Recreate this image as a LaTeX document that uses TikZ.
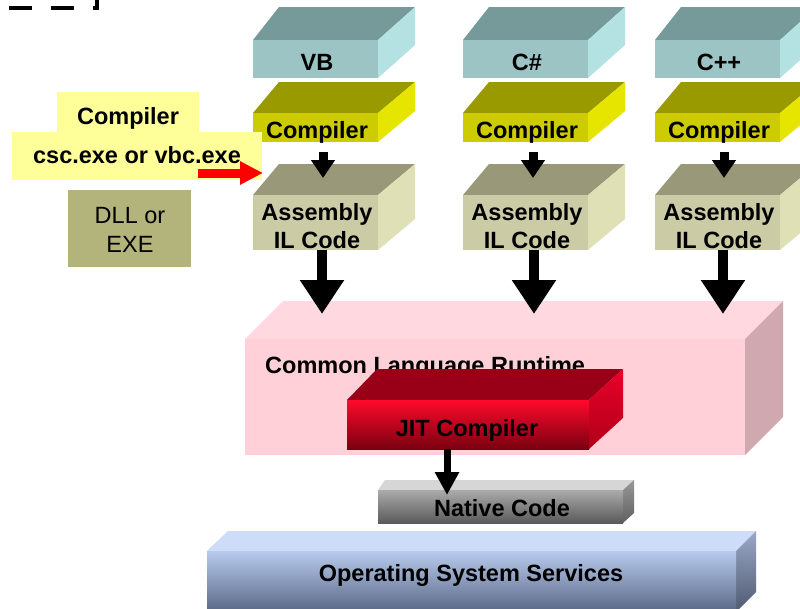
\documentclass[tikz,border=0pt]{standalone}
\usepackage{fontspec}
\setmainfont{Liberation Sans}
\usetikzlibrary{arrows.meta}
\definecolor{langT}{HTML}{76999A}
\definecolor{langF}{HTML}{9CC4C4}
\definecolor{langS}{HTML}{B4E2E3}
\definecolor{compT}{HTML}{999900}
\definecolor{compF}{HTML}{CCCC00}
\definecolor{compS}{HTML}{E5E500}
\definecolor{asmT}{HTML}{999979}
\definecolor{asmF}{HTML}{CBCBA6}
\definecolor{asmS}{HTML}{E0E0B6}
\definecolor{clrT}{HTML}{FFD9DF}
\definecolor{clrF}{HTML}{FFD0D8}
\definecolor{clrS}{HTML}{CFA8B0}
\definecolor{jitT}{HTML}{990018}
\definecolor{jitF1}{HTML}{FF0A2C}
\definecolor{jitF2}{HTML}{E00022}
\definecolor{jitF3}{HTML}{7A0010}
\definecolor{jitS1}{HTML}{E8002A}
\definecolor{jitS2}{HTML}{B00018}
\definecolor{natT}{HTML}{D6D6D6}
\definecolor{natF1}{HTML}{ABABAB}
\definecolor{natF2}{HTML}{5A5A5A}
\definecolor{natS1}{HTML}{989898}
\definecolor{natS2}{HTML}{606060}
\definecolor{osT}{HTML}{CDDCF8}
\definecolor{osF1}{HTML}{B8CBEE}
\definecolor{osF2}{HTML}{5A6784}
\definecolor{osS1}{HTML}{9AA8C6}
\definecolor{osS2}{HTML}{4F5A72}
\definecolor{ylab}{HTML}{FFFF99}
\definecolor{dllc}{HTML}{B3B37C}
\tikzset{
  langtop/.style={fill=langT}, langfront/.style={fill=langF}, langside/.style={fill=langS},
  comptop/.style={fill=compT}, compfront/.style={fill=compF}, compside/.style={fill=compS},
  asmtop/.style={fill=asmT}, asmfront/.style={fill=asmF}, asmside/.style={fill=asmS},
  clrtop/.style={fill=clrT}, clrfront/.style={fill=clrF}, clrside/.style={fill=clrS},
  jittop/.style={fill=jitT}, jitfront/.style={top color=jitF1, middle color=jitF2, bottom color=jitF3},
  jitside/.style={top color=jitS1, bottom color=jitS2},
  nattop/.style={fill=natT}, natfront/.style={top color=natF1, bottom color=natF2},
  natside/.style={top color=natS1, bottom color=natS2},
  ostop/.style={fill=osT}, osfront/.style={top color=osF1, bottom color=osF2},
  osside/.style={top color=osS1, bottom color=osS2},
  txt/.style={font=\fontsize{23.5}{28}\selectfont\bfseries, inner sep=0, anchor=base},
  txtn/.style={font=\fontsize{23.5}{28}\selectfont, inner sep=0, anchor=base},
  smallarr/.style={line width=9pt, -{Triangle[width=23pt,length=18pt]}, shorten <=10pt},
  bigarr/.style={line width=10pt, -{Triangle[width=42pt,length=34pt]}},
  jitarr/.style={line width=7pt, -{Triangle[width=23pt,length=23pt]}},
  redarr/.style={red, line width=9pt, -{Triangle[width=22pt,length=23pt]}},
}
% #1 name, #2 x1, #3 y1, #4 x2, #5 y2, #6 dx right, #7 dy, #8 colour set, #9 dx left
\newcommand\blk[9]{%
  \path[#8top] (#2,#3) -- (#2+#9,#3-#7) -- (#4+#6,#3-#7) -- (#4,#3) -- cycle;
  \path[#8side] (#4,#3) -- (#4+#6,#3-#7) -- (#4+#6,#5-#7) -- (#4,#5) -- cycle;
  \node[#8front, inner sep=0, outer sep=0, minimum width={#4-#2}, minimum height={#5-#3}] (#1) at ({(#2+#4)/2},{(#3+#5)/2}) {};
}
\begin{document}
\begin{tikzpicture}[x=1pt,y=-1pt]
\useasboundingbox (0,0) rectangle (800,608);
\clip (0,0) rectangle (800,608);
\fill[white] (0,0) rectangle (800,608);
% dashed fragment top left
\draw[line width=4pt, dash pattern=on 23pt off 19pt, line join=miter] (9,8) -- (97,8) -- (97,-20);
% language blocks
\blk{lVB}{253}{40}{378}{78}{37}{33}{lang}{26}
\blk{lCS}{463}{40}{588}{78}{37}{33}{lang}{26}
\blk{lCP}{655}{40}{780}{78}{37}{33}{lang}{26}
% compilers
\blk{cVB}{253}{113}{378}{142}{37}{31}{comp}{26}
\blk{cCS}{463}{113}{588}{142}{37}{31}{comp}{26}
\blk{cCP}{655}{113}{780}{142}{37}{31}{comp}{26}
% assemblies
\blk{aVB}{253}{195}{378}{250}{37}{31}{asm}{26}
\blk{aCS}{463}{195}{588}{250}{37}{31}{asm}{26}
\blk{aCP}{655}{195}{780}{250}{37}{31}{asm}{26}
% texts in column blocks
\node[txt] (t1) at (317,70) {VB};
\node[txt] (t2) at (527,70) {C\#};
\node[txt] (t3) at (719,70) {C++};
\node[txt] (t4) at (317,138) {Compiler};
\node[txt] (t5) at (527,138) {Compiler};
\node[txt] (t6) at (719,138) {Compiler};
\node[txt] (t7) at (317,220) {Assembly};
\node[txt] (t8) at (317,248) {IL Code};
\node[txt] (t9) at (527,220) {Assembly};
\node[txt] (t10) at (527,248) {IL Code};
\node[txt] (t11) at (719,220) {Assembly};
\node[txt] (t12) at (719,248) {IL Code};
% small arrows
\coordinate (sVB) at (323,178);
\coordinate (sCS) at (533,178);
\coordinate (sCP) at (724,178);
\draw[smallarr] (cVB.south -| sVB) -- (sVB);
\draw[smallarr] (cCS.south -| sCS) -- (sCS);
\draw[smallarr] (cCP.south -| sCP) -- (sCP);
% left labels
\node[fill=ylab, inner sep=0, minimum width=142, minimum height=40] (yl1) at (128,112) {};
\node[fill=ylab, inner sep=0, minimum width=250, minimum height=48] (yl2) at (137,156) {};
\node[txt] (t13) at (128,124) {Compiler};
\node[txt] (t14) at (137,163) {csc.exe or vbc.exe};
\node[fill=dllc, inner sep=0, minimum width=123, minimum height=77] (dll) at (129.5,228.5) {};
\node[txtn] (t15) at (130,223) {DLL or};
\node[txtn] (t16) at (130,252) {EXE};
\coordinate (rS) at (198,173);
\coordinate (rT) at (263,173);
\draw[redarr] (rS) -- (rT);
% CLR
\blk{clr}{245}{339}{745}{455}{38}{38}{clr}{38}
\coordinate (bVB) at (322,314);
\coordinate (bCS) at (534,314);
\coordinate (bCP) at (723,314);
\draw[bigarr] (aVB.south -| bVB) -- (bVB);
\draw[bigarr] (aCS.south -| bCS) -- (bCS);
\draw[bigarr] (aCP.south -| bCP) -- (bCP);
\node[txt, anchor=base west] (t17) at (265,373) {Common Language Runtime};
% JIT
\blk{jit}{347}{400}{589}{449}{34}{31}{jit}{30}
\node[txt] (t18) at (467,436) {JIT Compiler};
% Native
\blk{os}{207}{551}{736}{612}{20}{20}{os}{21}
\blk{nat}{378}{490}{623}{523}{11}{10}{nat}{7}
\coordinate (jT) at (447,495);
\draw[jitarr] (jit.south -| jT) -- (jT);
\node[txt] (t19) at (502,516) {Native Code};
\node[txt] (t20) at (471,581) {Operating System Services};
\end{tikzpicture}
\end{document}
